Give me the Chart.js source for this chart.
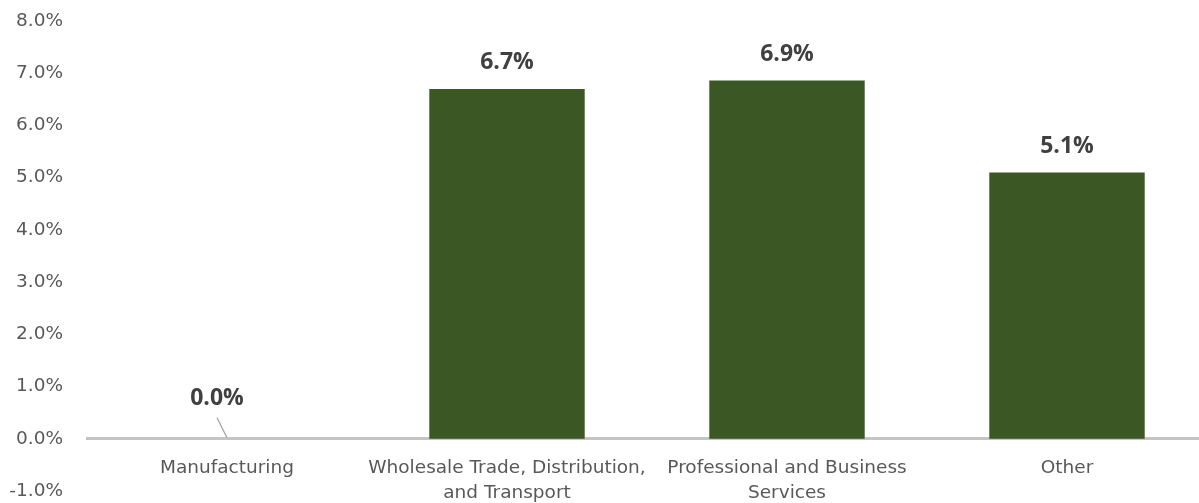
<!DOCTYPE html>
<html lang="en">
<head>
    <meta charset="UTF-8">
    <title>Growth by Sector</title>
    <script src="https://cdn.jsdelivr.net/npm/chart.js"></script>
    <style>
        html, body { margin: 0; padding: 0; background: #fff; overflow: hidden; }
        #wrap { position: relative; width: 1208px; height: 503px; }
    </style>
</head>
<body>
    <div id="wrap"><canvas id="myChart"></canvas></div>
    <script>
        const sectors = [
            'Manufacturing',
            ['Wholesale Trade, Distribution,', 'and Transport'],
            ['Professional and Business', 'Services'],
            'Other'
        ];
        const growth = [0.0, 6.7, 6.86, 5.1];
        const yTicks = [-1, 0, 1, 2, 3, 4, 5, 6, 7, 8];

        const axisFont = "'DejaVu Sans', sans-serif";
        const labelFont = "'Open Sans', sans-serif";

        // bar value labels, with a little leader line for the zero bar
        const valueLabels = {
            id: 'valueLabels',
            afterDatasetsDraw(chart) {
                const ctx = chart.ctx;
                const meta = chart.getDatasetMeta(0);
                ctx.save();
                ctx.font = 'bold 23px ' + labelFont;
                ctx.fillStyle = '#404040';
                ctx.textAlign = 'center';
                ctx.textBaseline = 'middle';
                meta.data.forEach((bar, i) => {
                    const v = growth[i];
                    const txt = v.toFixed(1) + '%';
                    if (v === 0) {
                        ctx.fillText(txt, bar.x - 10, bar.y - 40);
                        ctx.strokeStyle = '#a0a0a0';
                        ctx.lineWidth = 1.2;
                        ctx.beginPath();
                        ctx.moveTo(bar.x - 10, bar.y - 21);
                        ctx.lineTo(bar.x, bar.y - 1);
                        ctx.stroke();
                    } else {
                        ctx.fillText(txt, bar.x, bar.y - 26);
                    }
                });
                ctx.restore();
            }
        };

        const ctx = document.getElementById('myChart').getContext('2d');
        const myChart = new Chart(ctx, {
            type: 'bar',
            data: {
                labels: sectors,
                datasets: [{
                    data: growth,
                    backgroundColor: '#3a5724',
                    barPercentage: 0.555,
                    categoryPercentage: 1.0
                }]
            },
            options: {
                responsive: true,
                maintainAspectRatio: false,
                animation: false,
                layout: { padding: { top: 21, bottom: 12, right: 1, left: 0 } },
                plugins: {
                    legend: { display: false },
                    tooltip: { enabled: false }
                },
                scales: {
                    x: {
                        position: { y: 0 },
                        grid: { display: false, drawTicks: false },
                        border: { display: true, color: '#c4c4c4', width: 3 },
                        ticks: {
                            color: '#595959',
                            font: { family: axisFont, size: 18.5, lineHeight: 1.4 },
                            padding: 16,
                            maxRotation: 0,
                            autoSkip: false
                        }
                    },
                    y: {
                        min: -1,
                        max: 8,
                        afterBuildTicks: (axis) => { axis.ticks = yTicks.map(v => ({ value: v })); },
                        afterFit: (axis) => { axis.width = 87; },
                        // invisible tick marks keep the labels away from the plot
                        grid: { display: false, drawTicks: true, tickLength: 24 },
                        border: { display: false },
                        ticks: {
                            color: '#595959',
                            font: { family: axisFont, size: 18.5 },
                            padding: 0,
                            callback: (v) => v.toFixed(1) + '%'
                        }
                    }
                }
            },
            plugins: [valueLabels]
        });
    </script>
</body>
</html>
